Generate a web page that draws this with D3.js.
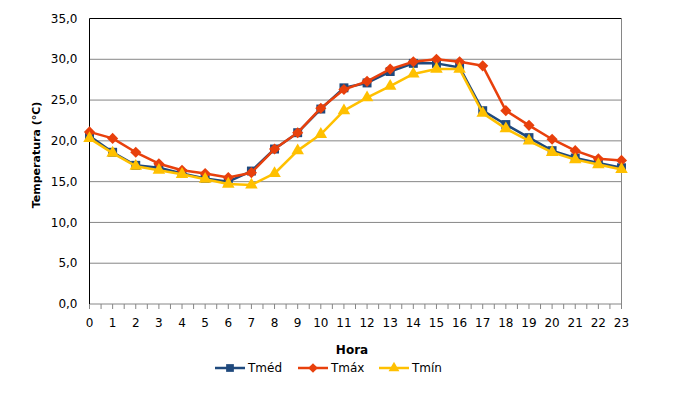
<!DOCTYPE html>
<html><head><meta charset="utf-8">
<script src="https://cdn.jsdelivr.net/npm/d3@7/dist/d3.min.js"></script>
<style>body{margin:0;background:#fff}svg{display:block}</style>
</head><body><svg id="c" width="680" height="400"></svg>
<script>
const hours = d3.range(0, 24);
const tmed = [20.6,18.6,17.0,16.7,16.0,15.4,15.0,16.3,19.0,21.0,23.9,26.5,27.1,28.5,29.5,29.5,29.0,23.7,22.0,20.4,18.8,17.9,17.3,16.7];
const tmax = [21.1,20.3,18.6,17.2,16.4,16.0,15.5,16.1,19.0,21.0,24.0,26.3,27.3,28.8,29.7,30.0,29.7,29.2,23.7,21.9,20.2,18.8,17.8,17.6];
const tmin = [20.3,18.5,16.9,16.4,15.9,15.3,14.7,14.6,16.0,18.8,20.8,23.7,25.3,26.7,28.2,28.8,28.8,23.4,21.5,20.0,18.6,17.7,17.1,16.5];
const yTicks = [0,5,10,15,20,25,30,35];
const seriesNames = ["Tméd","Tmáx","Tmín"];
const colors = ["#1F497D","#E8400C","#FFC000"];
const symbols = [d3.symbolSquare, d3.symbolSquare, d3.symbolTriangle];
const symRot = [0, 45, 0];
const symSizes = [80, 62, 68];

const svg = d3.select("#c");
const font = "DejaVu Sans, Verdana, sans-serif";
const x = d3.scaleLinear().domain([0,23]).range([89.5, 621.5]);
const y = d3.scaleLinear().domain([0,35]).range([304, 18.5]);

svg.append("g").selectAll("line").data(yTicks.filter(d=>d>0 && d<35)).join("line")
  .attr("x1", x(0)).attr("x2", x(23)).attr("y1", d=>y(d)).attr("y2", d=>y(d))
  .attr("stroke", "#868686").attr("stroke-width", 1);
svg.append("line").attr("x1", x(0)).attr("x2", x(23)).attr("y1", y(35)).attr("y2", y(35)).attr("stroke","#000");
svg.append("line").attr("x1", x(23)).attr("x2", x(23)).attr("y1", y(35)).attr("y2", y(0)).attr("stroke","#868686");

const xa = svg.append("g").attr("transform", `translate(0,${y(0)})`);
xa.append("line").attr("x1", x(0)).attr("x2", x(23)).attr("stroke","#868686");
xa.selectAll("line.t").data(d3.range(0, 23.01, 0.5)).join("line").attr("class","t")
  .attr("x1", d=>x(d)).attr("x2", d=>x(d)).attr("y1", 0).attr("y2", 5).attr("stroke","#868686");
xa.selectAll("text").data(hours).join("text")
  .attr("x", d=>x(d)).attr("y", 23).attr("text-anchor","middle")
  .attr("font-family", font).attr("font-size", 12).attr("fill","#000").text(d=>d);

const ya = svg.append("g").attr("transform", `translate(${x(0)},0)`);
ya.append("line").attr("y1", y(0)).attr("y2", y(35)).attr("stroke","#000");
ya.selectAll("text").data(yTicks).join("text")
  .attr("x", -12).attr("y", d=>y(d)).attr("dy","0.35em").attr("text-anchor","end")
  .attr("font-family", font).attr("font-size", 12).attr("fill","#000")
  .text(d=>d3.format(".1f")(d).replace(".", ","));

svg.append("text").attr("transform","translate(40,155) rotate(-90)").attr("text-anchor","middle")
  .attr("font-family", font).attr("font-size", 11).attr("font-weight","bold").text("Temperatura (°C)");
svg.append("text").attr("x", 352).attr("y", 354).attr("text-anchor","middle")
  .attr("font-family", font).attr("font-size", 12).attr("font-weight","bold").text("Hora");

const allData = [tmed, tmax, tmin];
const line = d3.line().x((d,i)=>x(hours[i])).y(d=>y(d));
allData.forEach((vals, s) => {
  const g = svg.append("g");
  g.append("path").datum(vals).attr("d", line).attr("fill","none")
    .attr("stroke", colors[s]).attr("stroke-width", 2.5).attr("stroke-linejoin","round");
  g.selectAll("path.m").data(vals).join("path").attr("class","m")
    .attr("transform", (d,i)=>`translate(${x(hours[i])},${y(d)}) rotate(${symRot[s]})`)
    .attr("d", d3.symbol().type(symbols[s]).size(symSizes[s])())
    .attr("fill", colors[s]);
});

const legX = [215, 298, 379];
seriesNames.forEach((n, s) => {
  const g = svg.append("g").attr("transform", `translate(${legX[s]},368)`);
  g.append("line").attr("x1",0).attr("x2",30).attr("stroke",colors[s]).attr("stroke-width",2.5);
  g.append("path").attr("transform",`translate(15,0) rotate(${symRot[s]})`)
    .attr("d", d3.symbol().type(symbols[s]).size(symSizes[s]*0.75)()).attr("fill", colors[s]);
  g.append("text").attr("x", 33).attr("y", 0).attr("dy","0.35em")
    .attr("font-family", font).attr("font-size", 12).text(n);
});
</script></body></html>
